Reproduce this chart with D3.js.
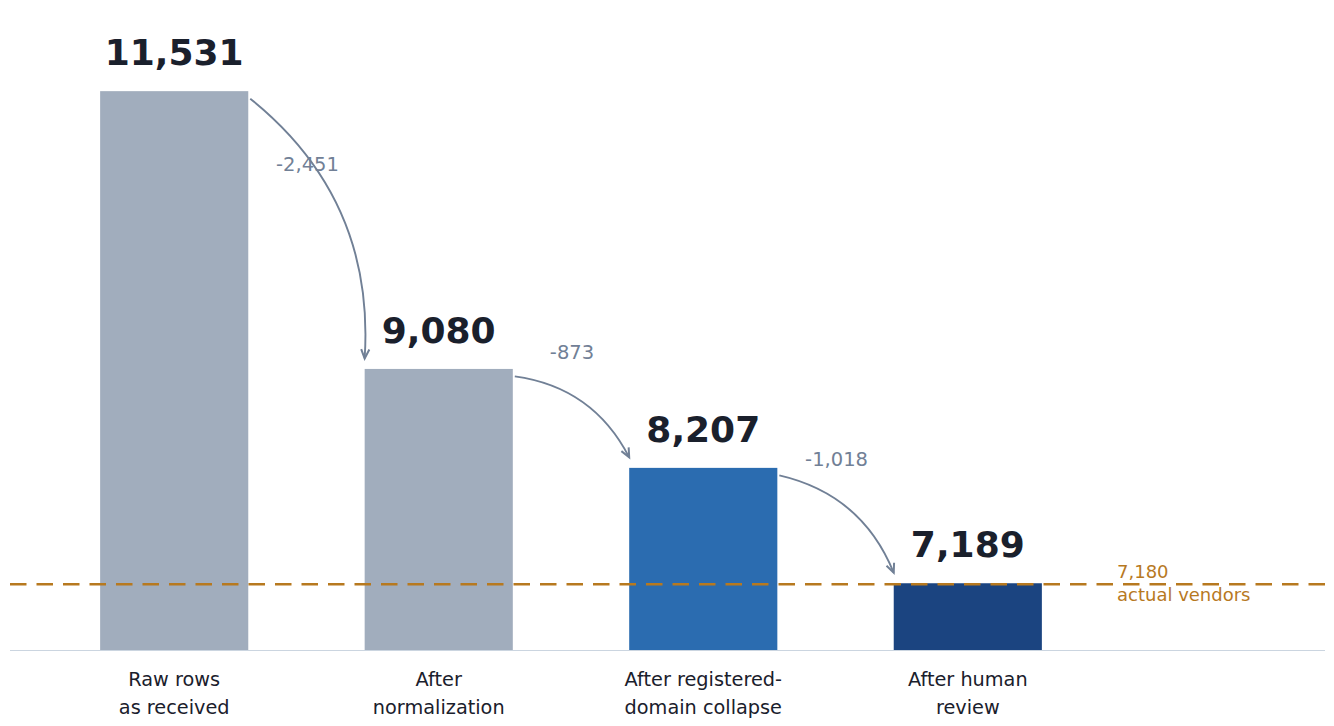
<!DOCTYPE html>
<html>
<head>
<meta charset="utf-8">
<script src="https://cdn.jsdelivr.net/npm/d3@7"></script>
<style>
  html, body { margin: 0; padding: 0; background: #ffffff; }
  svg { display: block; font-family: "DejaVu Sans", sans-serif; }
</style>
</head>
<body>
<svg id="chart" width="1334" height="726"></svg>
<script>
// ---- data ----
const categories = ["Raw rows\nas received", "After\nnormalization", "After registered-\ndomain collapse", "After human\nreview"];
const values = [11531, 9080, 8207, 7189];
const deltas = [-2451, -873, -1018];
const targetValue = 7180;
const targetLabel = ["7,180", "actual vendors"];
const yDomain = [6600, 12000];

// ---- styles ----
const barColors = ["#a1adbd", "#a1adbd", "#2b6cb0", "#1b4480"];
const textDark = "#1a202c";
const deltaColor = "#718096";
const targetColor = "#b7791f";
const baseColor = "#cbd5e0";

const svg = d3.select("#chart");
const left = 10, right = 1325, baseY = 650;

const x = d3.scaleBand().domain(d3.range(categories.length)).range([34, 1108])
  .paddingInner(0.44).paddingOuter(0.25);
const y = d3.scaleLinear().domain(yDomain).range([baseY, 38]);
const locale = d3.formatLocale({ decimal: ".", thousands: ",", grouping: [3], currency: ["$", ""], minus: "-" });
const fmt = locale.format(",");

// bars
svg.append("g").selectAll("rect").data(values).join("rect")
  .attr("x", (d, i) => x(i))
  .attr("y", d => y(d))
  .attr("width", x.bandwidth())
  .attr("height", d => baseY - y(d))
  .attr("fill", (d, i) => barColors[i]);

// baseline
svg.append("line")
  .attr("x1", left).attr("x2", right)
  .attr("y1", baseY + 0.5).attr("y2", baseY + 0.5)
  .attr("stroke", baseColor).attr("stroke-width", 1.2);

// value labels
svg.append("g").selectAll("text").data(values).join("text")
  .attr("x", (d, i) => x(i) + x.bandwidth() / 2)
  .attr("y", d => y(d) - 26)
  .attr("text-anchor", "middle")
  .attr("font-size", 36)
  .attr("font-weight", "bold")
  .attr("fill", textDark)
  .text(d => fmt(d));

// category labels (x axis)
const xAxis = d3.axisBottom(x).tickSize(0).tickFormat("");
const gx = svg.append("g").attr("transform", `translate(0,${baseY})`).call(xAxis);
gx.select(".domain").remove();
gx.selectAll(".tick").each(function (d) {
  const lines = categories[d].split("\n");
  const t = d3.select(this).append("text")
    .attr("text-anchor", "middle")
    .attr("fill", textDark)
    .attr("font-size", 19.3)
    .attr("font-family", "DejaVu Sans, sans-serif");
  lines.forEach((ln, k) => {
    t.append("tspan").attr("x", 0).attr("y", 36 + k * 28).text(ln);
  });
});

// arrows + delta labels
const arrows = svg.append("g");
deltas.forEach((dv, i) => {
  const x0 = x(i) + x.bandwidth() + 2, y0 = y(values[i]) + 7.5;
  const x1 = x(i + 1), y1 = y(values[i + 1]) - 10.5;
  const mx = (x0 + x1) / 2, my = (y0 + y1) / 2;
  const dx = x1 - x0, dy = y1 - y0;
  const rad = 0.26;
  const cx = mx + rad * dy, cy = my - rad * dx;
  arrows.append("path")
    .attr("d", `M${x0},${y0} Q${cx},${cy} ${x1},${y1}`)
    .attr("fill", "none").attr("stroke", deltaColor).attr("stroke-width", 1.9);
  // arrowhead
  const ang = Math.atan2(y1 - cy, x1 - cx);
  const L = 10, a = 0.42;
  const p1 = [x1 - L * Math.cos(ang - a), y1 - L * Math.sin(ang - a)];
  const p2 = [x1 - L * Math.cos(ang + a), y1 - L * Math.sin(ang + a)];
  arrows.append("path")
    .attr("d", `M${p1[0]},${p1[1]} L${x1},${y1} L${p2[0]},${p2[1]}`)
    .attr("fill", "none").attr("stroke", deltaColor).attr("stroke-width", 2)
    .attr("stroke-linejoin", "miter");
  arrows.append("text")
    .attr("x", mx).attr("y", my - 62 + 4)
    .attr("text-anchor", "middle")
    .attr("font-size", 19.5)
    .attr("fill", deltaColor)
    .text(fmt(dv));
});

// target line
svg.append("line")
  .attr("x1", left).attr("x2", right)
  .attr("y1", y(targetValue)).attr("y2", y(targetValue))
  .attr("stroke", targetColor).attr("stroke-width", 2.6)
  .attr("stroke-dasharray", "16.5,10");

const tl = svg.append("text")
  .attr("fill", targetColor).attr("font-size", 18);
targetLabel.forEach((ln, k) => {
  tl.append("tspan").attr("x", 1117).attr("y", y(targetValue) - 6 + k * 23).text(ln);
});
</script>
</body>
</html>
